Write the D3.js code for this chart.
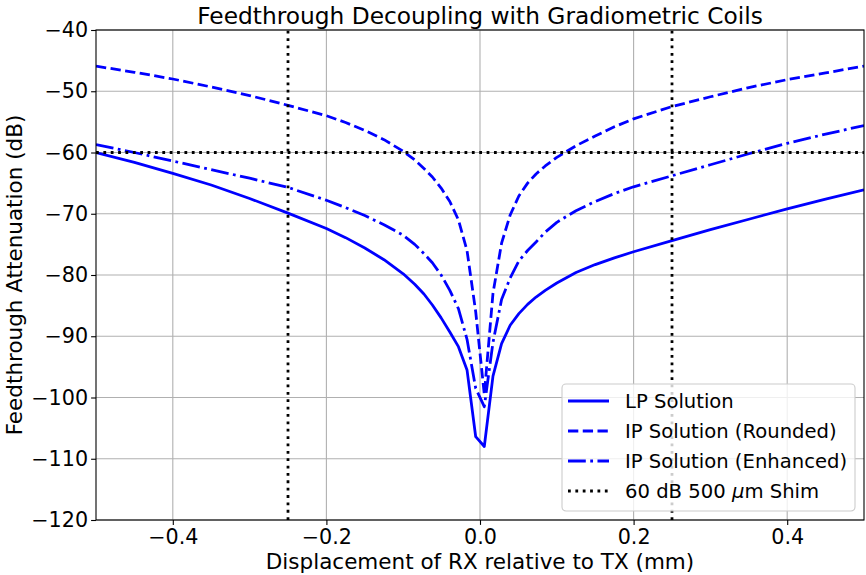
<!DOCTYPE html>
<html><head><meta charset="utf-8">
<script src="https://cdn.jsdelivr.net/npm/d3@7"></script>
<style>body{margin:0;background:#fff;} text{font-family:"DejaVu Sans",sans-serif;}</style>
</head><body><svg id="c" width="866" height="575"></svg>
<script>
const xs = [-0.5,-0.45,-0.4,-0.35,-0.3,-0.25,-0.2,-0.175,-0.15,-0.125,-0.1,-0.085,-0.073,-0.062,-0.0506,-0.0393,-0.0281,-0.0169,-0.0056,0.0056,0.0169,0.0281,0.0393,0.0506,0.062,0.073,0.085,0.1,0.125,0.15,0.175,0.2,0.25,0.3,0.35,0.4,0.45,0.5];
const lpSolution = [-60.0,-61.6,-63.4,-65.3,-67.5,-69.9,-72.4,-73.9,-75.6,-77.5,-79.8,-81.5,-83.1,-84.9,-87.0,-89.3,-91.7,-95.5,-106.4,-108.0,-96.5,-91.2,-88.2,-86.3,-84.8,-83.6,-82.5,-81.3,-79.6,-78.3,-77.2,-76.2,-74.4,-72.6,-70.9,-69.2,-67.6,-66.1];
const ipRounded = [-45.9,-46.9,-48.0,-49.3,-50.7,-52.3,-54.0,-55.1,-56.4,-57.9,-59.8,-61.2,-62.6,-64.0,-65.8,-68.0,-71.0,-76.0,-86.0,-99.5,-83.0,-74.8,-70.2,-67.1,-65.0,-63.5,-62.2,-60.8,-58.9,-57.3,-55.8,-54.5,-52.5,-50.9,-49.4,-48.1,-47.0,-45.9];
const ipEnhanced = [-58.7,-60.0,-61.4,-62.8,-64.2,-65.7,-67.8,-69.0,-70.3,-71.8,-73.5,-75.0,-76.5,-78.0,-80.0,-82.5,-85.5,-90.5,-98.5,-101.5,-91.0,-84.0,-80.5,-77.7,-76.0,-74.6,-73.0,-71.4,-69.5,-68.0,-66.7,-65.6,-63.8,-62.0,-60.2,-58.5,-57.0,-55.6];
const shimLevel = -60;
const shimX = [-0.25, 0.25];
const xTicks = [-0.4,-0.2,0.0,0.2,0.4];
const yTicks = [-120,-110,-100,-90,-80,-70,-60,-50,-40];
const seriesNames = ["LP Solution","IP Solution (Rounded)","IP Solution (Enhanced)"];

const svg = d3.select("#c");
const L=96, R=864, T=30, B=520;
const x = d3.scaleLinear().domain([-0.5,0.5]).range([L,R]);
const y = d3.scaleLinear().domain([-120,-40]).range([B,T]);
const fmtMinus = s => s.replace("-", "\u2212");

// grid
const g = svg.append("g");
g.selectAll(".gx").data(xTicks).join("line").attr("x1",d=>x(d)).attr("x2",d=>x(d)).attr("y1",T).attr("y2",B).attr("stroke","#b0b0b0").attr("stroke-width",1.1);
g.selectAll(".gy").data(yTicks).join("line").attr("x1",L).attr("x2",R).attr("y1",d=>y(d)).attr("y2",d=>y(d)).attr("stroke","#b0b0b0").attr("stroke-width",1.1);

svg.append("clipPath").attr("id","cp").append("rect").attr("x",L).attr("y",T).attr("width",R-L).attr("height",B-T);
const plot = svg.append("g").attr("clip-path","url(#cp)");
const line = d3.line().x((d,i)=>x(xs[i])).y(d=>y(d));
const styles = [null, "10.3,4.45", "17.8,4.45,2.78,4.45"];
[lpSolution, ipRounded, ipEnhanced].forEach((s,i)=>{
  const p = plot.append("path").datum(s).attr("d",line).attr("fill","none").attr("stroke","#0000ff").attr("stroke-width",2.78).attr("stroke-linejoin","round");
  if(styles[i]) p.attr("stroke-dasharray",styles[i]);
});
const dot = "2.78,4.59";
plot.append("line").attr("x1",L).attr("x2",R).attr("y1",y(shimLevel)).attr("y2",y(shimLevel)).attr("stroke","#000").attr("stroke-width",2.78).attr("stroke-dasharray",dot);
shimX.forEach(v=>{
  plot.append("line").attr("x1",x(v)).attr("x2",x(v)).attr("y1",B).attr("y2",T).attr("stroke","#000").attr("stroke-width",2.78).attr("stroke-dasharray",dot);
});

// axes
const ax = svg.append("g").attr("transform",`translate(0,${B})`).call(d3.axisBottom(x).tickValues(xTicks).tickSize(4.9).tickPadding(4).tickFormat(d=>fmtMinus(d3.format(".1f")(d))));
const ay = svg.append("g").attr("transform",`translate(${L},0)`).call(d3.axisLeft(y).tickValues(yTicks).tickSize(4.9).tickPadding(3).tickFormat(d=>fmtMinus(String(d))));
[ax,ay].forEach(a=>{a.select(".domain").remove(); a.selectAll("line").attr("stroke","#000").attr("stroke-width",1.1); a.selectAll("text").attr("font-size",20.7).attr("font-family","DejaVu Sans").attr("fill","#000");});
svg.append("rect").attr("x",L).attr("y",T).attr("width",R-L).attr("height",B-T).attr("fill","none").attr("stroke","#000").attr("stroke-width",1.1);

svg.append("text").attr("x",(L+R)/2).attr("y",23.5).attr("text-anchor","middle").attr("font-size",23.3).text("Feedthrough Decoupling with Gradiometric Coils");
svg.append("text").attr("x",(L+R)/2).attr("y",569).attr("text-anchor","middle").attr("font-size",21.5).text("Displacement of RX relative to TX (mm)");
svg.append("text").attr("transform",`translate(21.5,${(T+B)/2}) rotate(-90)`).attr("text-anchor","middle").attr("font-size",21.5).text("Feedthrough Attenuation (dB)");

// legend
const lg = svg.append("g");
lg.append("rect").attr("x",562).attr("y",384).attr("width",293).attr("height",127).attr("rx",4).attr("fill","#fff").attr("fill-opacity",0.8).attr("stroke","#cccccc").attr("stroke-width",1.1);
const legItems = [
  {name:seriesNames[0], color:"#0000ff", dash:null},
  {name:seriesNames[1], color:"#0000ff", dash:"10.3,4.45"},
  {name:seriesNames[2], color:"#0000ff", dash:"17.8,4.45,2.78,4.45"},
  {name:null, color:"#000", dash:dot}
];
legItems.forEach((it,i)=>{
  const yy = 401 + i*30;
  const l = lg.append("line").attr("x1",568).attr("x2",609).attr("y1",yy).attr("y2",yy).attr("stroke",it.color).attr("stroke-width",2.78);
  if(it.dash) l.attr("stroke-dasharray",it.dash);
  const t = lg.append("text").attr("x",625).attr("y",yy+7).attr("font-size",19.6);
  if(it.name) t.text(it.name);
  else { t.append("tspan").text("60 dB 500 "); t.append("tspan").attr("font-style","italic").text("\u03bc"); t.append("tspan").text("m Shim"); }
});
</script></body></html>
